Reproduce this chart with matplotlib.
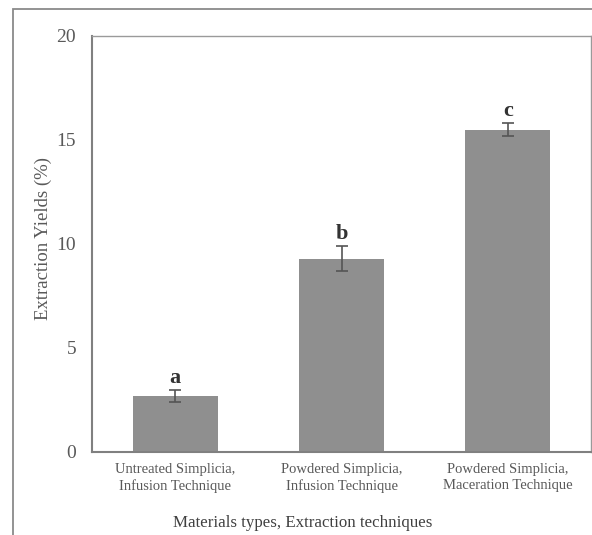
import numpy as np
import matplotlib.pyplot as plt
from matplotlib.patches import Rectangle

plt.rcParams['font.family'] = ['Liberation Serif', 'DejaVu Serif']

# extraction yields per material / technique
categories = ['Untreated Simplicia,\nInfusion Technique',
              'Powdered Simplicia,\nInfusion Technique',
              'Powdered Simplicia,\nMaceration Technique']
yields = [2.7, 9.3, 15.5]
yield_err = [0.3, 0.6, 0.33]
groups = ['a', 'b', 'c']

fig = plt.figure(figsize=(5.92, 5.35), dpi=100)
ax = fig.add_axes([92/592, 1-452/535, 499/592, 416/535])

x = np.arange(len(categories))
ax.bar(x, yields, width=0.51, color='#8f8f8f', zorder=2)
ax.errorbar(x, yields, yerr=yield_err, fmt='none', ecolor='#555555',
            elinewidth=1.2, capsize=4, capthick=1.2, zorder=3)
for xi, v, e, g in zip(x, yields, yield_err, groups):
    ax.text(xi, v + e + 0.34, g, ha='center', va='baseline', fontsize=16,
            fontweight='bold', color='#333333')

ax.set_xlim(-0.5, 2.5)
ax.set_ylim(0, 20)
ax.set_yticks([0, 5, 10, 15, 20])
ax.set_xticks(x)
ax.set_xticklabels(categories, fontsize=10.5, color='#595959', linespacing=1.25)
ax.tick_params(axis='y', length=0, pad=11.5, labelsize=14, labelcolor='#595959')
ax.tick_params(axis='x', length=0, pad=8)
ax.set_ylabel('Extraction Yields (%)', fontsize=13.5, color='#595959')
ax.yaxis.set_label_coords(-0.081, 0.513)

for side in ['left', 'bottom']:
    ax.spines[side].set_color('#808080')
    ax.spines[side].set_linewidth(1.5)
for side in ['top', 'right']:
    ax.spines[side].set_color('#9a9a9a')
    ax.spines[side].set_linewidth(1.0)

fig.text(0.511, 1-523/535, 'Materials types, Extraction techniques',
         ha='center', va='center', fontsize=12.2, color='#404040')

# outer frame around the figure
fig.patches.append(Rectangle((13/592, -0.1), 1.2, 0.1+1-9/535,
                             transform=fig.transFigure, fill=False,
                             edgecolor='#8a8a8a', linewidth=1.3))

fig.savefig('out.png', dpi=100)
